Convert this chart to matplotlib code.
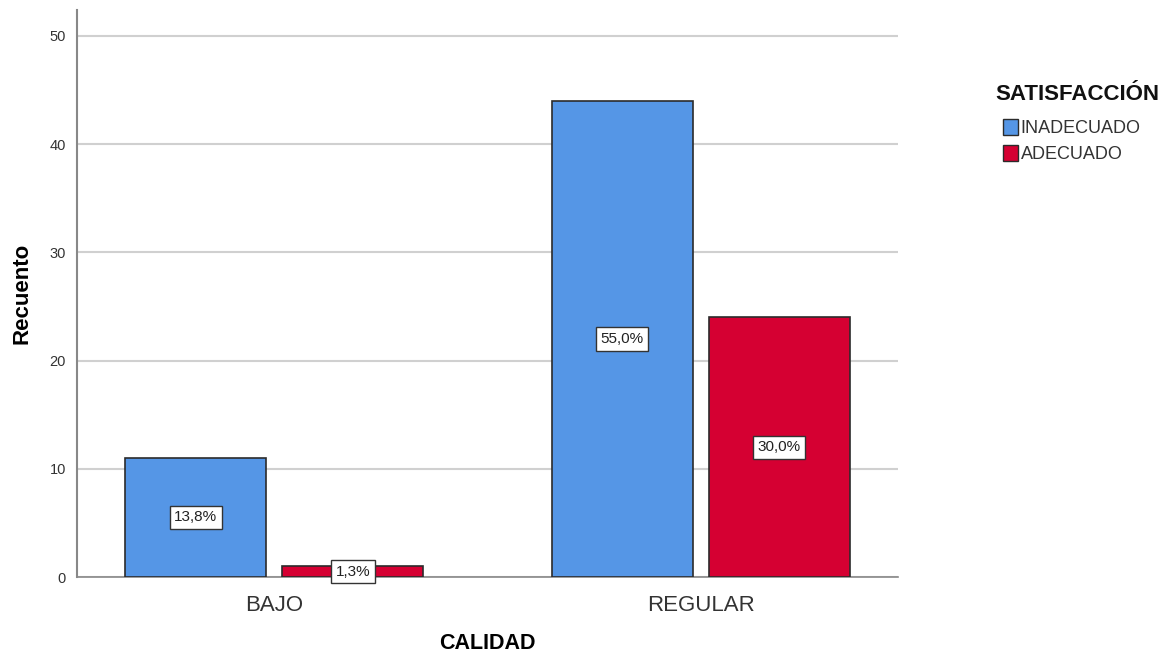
import matplotlib
matplotlib.use("Agg")
import matplotlib.pyplot as plt
import numpy as np
from matplotlib.patches import Patch

plt.rcParams["font.family"] = ["Liberation Sans", "DejaVu Sans"]

# Data
categories = ["BAJO", "REGULAR"]
series_names = ["INADECUADO", "ADECUADO"]
counts_inadecuado = [11, 44]
counts_adecuado = [1, 24]
pct_inadecuado = ["13,8%", "55,0%"]
pct_adecuado = ["1,3%", "30,0%"]

colors = ["#5596E6", "#D50032"]
edge = "#2b2b2b"

fig = plt.figure(figsize=(11.7, 6.56), dpi=100)
ax = fig.add_axes([0.0658, 0.1204, 0.7017, 0.8644])

x = np.arange(len(categories))
width = 0.331
offset = 0.184

bars1 = ax.bar(x - offset, counts_inadecuado, width, color=colors[0], edgecolor=edge, linewidth=1.2, zorder=3)
bars2 = ax.bar(x + offset, counts_adecuado, width, color=colors[1], edgecolor=edge, linewidth=1.2, zorder=3)

box = dict(boxstyle="square,pad=0.3", facecolor="white", edgecolor="#333333", linewidth=1)
for bars, labels in ((bars1, pct_inadecuado), (bars2, pct_adecuado)):
    for b, lab in zip(bars, labels):
        ax.text(b.get_x() + b.get_width() / 2, b.get_height() / 2, lab,
                ha="center", va="center", fontsize=11, color="#222222", bbox=box, zorder=5)

ax.set_xlim(-0.4624, 1.4624)
ax.set_ylim(0, 52.4)
ax.set_yticks([0, 10, 20, 30, 40, 50])
ax.set_xticks(x)
ax.set_xticklabels(categories, fontsize=16, color="#333333")
ax.tick_params(axis="y", length=0, labelsize=10.5, labelcolor="#333333", pad=8)
ax.tick_params(axis="x", length=0, pad=13)
ax.yaxis.grid(True, color="#d0d0d0", linewidth=1.5, zorder=0)
ax.set_axisbelow(True)

for s in ("top", "right"):
    ax.spines[s].set_visible(False)
ax.spines["left"].set_color("#888888")
ax.spines["left"].set_linewidth(1.5)
ax.spines["bottom"].set_color("#888888")
ax.spines["bottom"].set_linewidth(1.2)

ax.set_ylabel("Recuento", fontsize=16, fontweight="bold", labelpad=12)
ax.set_xlabel("CALIDAD", fontsize=15.5, fontweight="bold", labelpad=12)

# Legend: title drawn separately to match spacing
fig.text(995 / 1170, 1 - 94 / 656, "SATISFACCIÓN", fontsize=16, fontweight="bold",
         ha="left", va="center", color="#111111")
handles = [Patch(facecolor=c, edgecolor=edge, linewidth=1) for c in colors]
leg = fig.legend(handles, series_names, loc="upper left",
                 bbox_to_anchor=(0.857, 0.818), frameon=False, fontsize=13,
                 handlelength=0.85, handleheight=0.95, handletextpad=0.15,
                 labelspacing=0.42, borderpad=0, borderaxespad=0)
for t in leg.get_texts():
    t.set_color("#333333")

fig.savefig("out.png", dpi=100)
